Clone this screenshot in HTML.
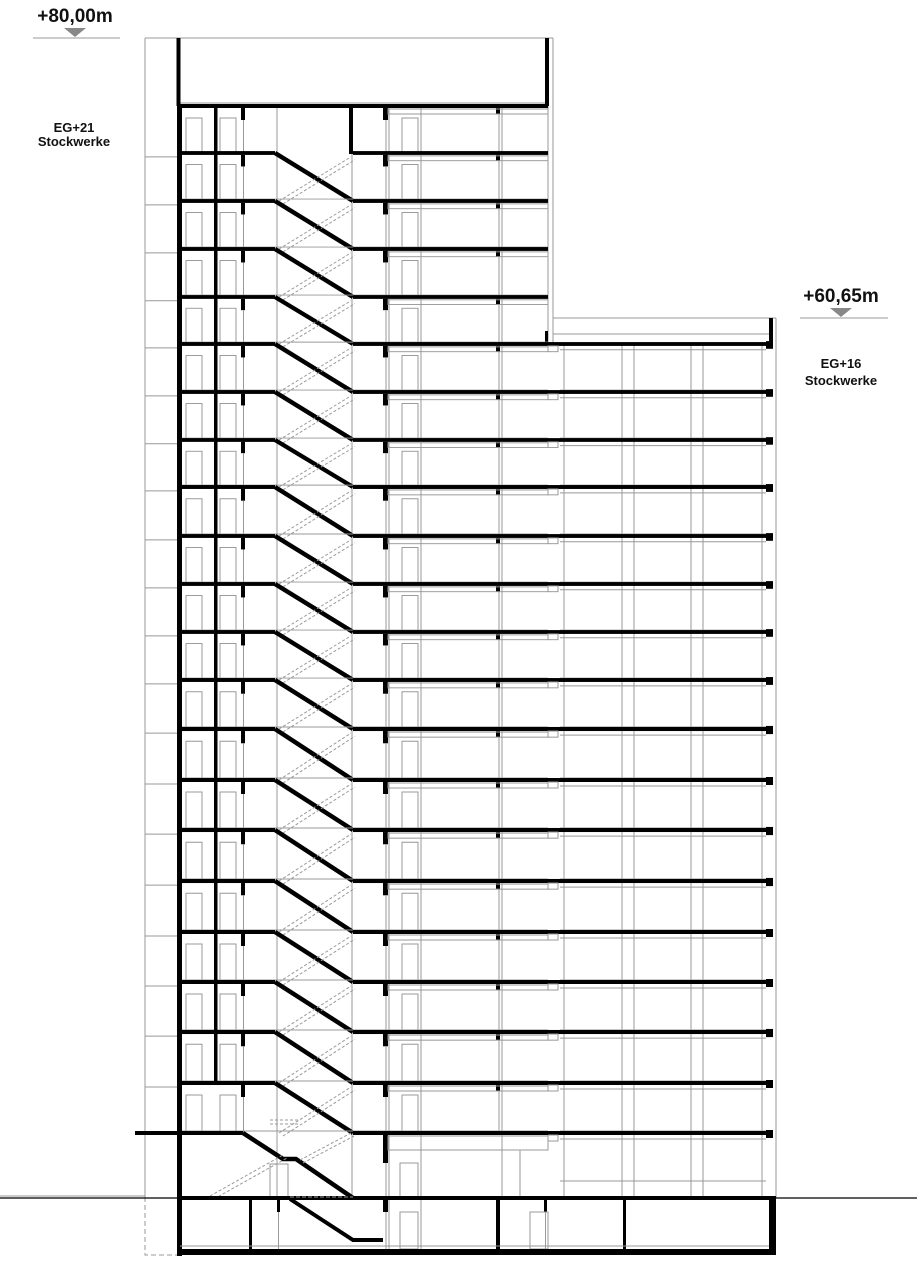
<!DOCTYPE html>
<html><head><meta charset="utf-8"><style>
html,body{margin:0;padding:0;background:#fff;}
svg{display:block}
text{font-family:"Liberation Sans Narrow","Liberation Sans",sans-serif;font-weight:bold;fill:#111;text-anchor:middle}
</style></head><body>
<svg width="917" height="1280" viewBox="0 0 917 1280" xmlns="http://www.w3.org/2000/svg">
<defs>
<g id="t">
 <rect x="180" y="-2" width="95" height="4" fill="#000"/>
 <rect x="353" y="-2" width="195" height="4" fill="#000"/>
 <path d="M275 0 L353 50" stroke="#000" stroke-width="4.5" fill="none"/>
 <path d="M279 50 L351 4 M283 53 L355 7" stroke="#999" stroke-width="1" stroke-dasharray="3 2" fill="none"/>
 <rect x="241" y="2" width="4" height="12" fill="#000"/>
 <rect x="383" y="2" width="5" height="12" fill="#000"/>
 <rect x="496" y="2" width="4" height="6" fill="#000"/>
 <g stroke="#999" stroke-width="1" fill="none">
  <path d="M243.5 14V50 M386 14V50 M389 2V50 M421 2V50 M502 2V50 M499 8V50 M145 4H177"/>
  <rect x="388" y="3" width="160" height="5"/>
  <rect x="186" y="12" width="16" height="38"/>
  <rect x="220" y="12" width="16" height="38"/>
  <rect x="402" y="12" width="16" height="38"/>
  <path d="M180 48H548"/>
 </g>
</g>
<g id="w">
 <rect x="548" y="-2" width="222" height="4" fill="#000"/>
 <rect x="766" y="-3" width="7" height="8" fill="#000"/>
 <g stroke="#999" stroke-width="1" fill="none">
  <path d="M560 6H766 M560 48H766"/>
  <rect x="548" y="2" width="10" height="6"/>
 </g>
</g>
</defs>

<!-- labels -->
<text x="75" y="22" font-size="19">+80,00m</text>
<polygon points="64,28 86,28 75,37" fill="#888"/>
<line x1="33" y1="38" x2="120" y2="38" stroke="#999" stroke-width="1"/>
<text x="74" y="132" font-size="13">EG+21</text>
<text x="74" y="146" font-size="13">Stockwerke</text>
<text x="841" y="302" font-size="19">+60,65m</text>
<polygon points="830,308 852,308 841,317" fill="#888"/>
<line x1="800" y1="318" x2="888" y2="318" stroke="#999" stroke-width="1"/>
<text x="841" y="368" font-size="13">EG+16</text>
<text x="841" y="385" font-size="13">Stockwerke</text>

<!-- global thin lines -->
<g stroke="#999" stroke-width="1" fill="none">
 <path d="M145 38V1198 M145 38H553 M553 38V344 M548 106V344 M180 103H546"/>
 <path d="M277 106V1198 M352 153V1198"/>
 <path d="M553 318H776 M553 334H770 M776 318V1198"/>
 <path d="M564 344V1198 M622 344V1198 M634 344V1198 M691 344V1198 M703 344V1198 M762 344V1198"/>
 <rect x="145" y="1198" width="33" height="57" stroke-dasharray="5 3"/>
</g>

<!-- parapets -->
<rect x="176.5" y="38" width="4" height="68" fill="#000"/>
<rect x="545" y="38" width="4" height="68" fill="#000"/>
<rect x="769" y="318" width="4" height="26" fill="#000"/>
<rect x="545" y="331" width="3" height="13" fill="#000"/>

<!-- top floor -->
<rect x="178" y="104" width="370" height="4" fill="#000"/>
<rect x="349" y="106" width="4" height="48" fill="#000"/>
<rect x="241" y="108" width="4" height="12" fill="#000"/>
<rect x="383" y="108" width="5" height="12" fill="#000"/>
<rect x="496" y="108" width="4" height="6" fill="#000"/>
<g stroke="#999" stroke-width="1" fill="none">
 <path d="M243.5 120V153 M386 120V153 M389 108V153 M421 108V153 M502 108V153 M499 114V153"/>
 <rect x="388" y="109" width="160" height="5"/>
 <rect x="186" y="118" width="16" height="35"/>
 <rect x="220" y="118" width="16" height="35"/>
 <rect x="402" y="118" width="16" height="35"/>
</g>

<!-- typical floors -->
<use href="#t" transform="translate(0,153) scale(1,0.96)"/>
<use href="#t" transform="translate(0,201) scale(1,0.96)"/>
<use href="#t" transform="translate(0,249) scale(1,0.96)"/>
<use href="#t" transform="translate(0,297) scale(1,0.94)"/>
<use href="#t" transform="translate(0,344) scale(1,0.96)"/>
<use href="#t" transform="translate(0,392) scale(1,0.96)"/>
<use href="#t" transform="translate(0,440) scale(1,0.94)"/>
<use href="#t" transform="translate(0,487) scale(1,0.98)"/>
<use href="#t" transform="translate(0,536) scale(1,0.96)"/>
<use href="#t" transform="translate(0,584) scale(1,0.96)"/>
<use href="#t" transform="translate(0,632) scale(1,0.96)"/>
<use href="#t" transform="translate(0,680) scale(1,0.98)"/>
<use href="#t" transform="translate(0,729) scale(1,1.02)"/>
<use href="#t" transform="translate(0,780) scale(1,1.0)"/>
<use href="#t" transform="translate(0,830) scale(1,1.02)"/>
<use href="#t" transform="translate(0,881) scale(1,1.02)"/>
<use href="#t" transform="translate(0,932) scale(1,1.0)"/>
<use href="#t" transform="translate(0,982) scale(1,1.0)"/>
<use href="#t" transform="translate(0,1032) scale(1,1.02)"/>
<use href="#t" transform="translate(0,1083) scale(1,1.0)"/>

<use href="#w" transform="translate(0,344) scale(1,0.96)"/>
<use href="#w" transform="translate(0,392) scale(1,0.96)"/>
<use href="#w" transform="translate(0,440) scale(1,0.94)"/>
<use href="#w" transform="translate(0,487) scale(1,0.98)"/>
<use href="#w" transform="translate(0,536) scale(1,0.96)"/>
<use href="#w" transform="translate(0,584) scale(1,0.96)"/>
<use href="#w" transform="translate(0,632) scale(1,0.96)"/>
<use href="#w" transform="translate(0,680) scale(1,0.98)"/>
<use href="#w" transform="translate(0,729) scale(1,1.02)"/>
<use href="#w" transform="translate(0,780) scale(1,1.0)"/>
<use href="#w" transform="translate(0,830) scale(1,1.02)"/>
<use href="#w" transform="translate(0,881) scale(1,1.02)"/>
<use href="#w" transform="translate(0,932) scale(1,1.0)"/>
<use href="#w" transform="translate(0,982) scale(1,1.0)"/>
<use href="#w" transform="translate(0,1032) scale(1,1.02)"/>
<use href="#w" transform="translate(0,1083) scale(1,1.0)"/>
<use href="#w" transform="translate(0,1133) scale(1,1.0)"/>

<!-- column and outer wall -->
<rect x="214" y="106" width="3.5" height="977" fill="#000"/>
<rect x="177" y="104" width="5" height="1152" fill="#000"/>

<!-- ground floor (1133-1198) -->
<rect x="135" y="1131" width="108" height="4" fill="#000"/>
<rect x="353" y="1131" width="195" height="4" fill="#000"/>
<path d="M243 1133 L283 1159 L296 1159 L353 1198" stroke="#000" stroke-width="4.5" fill="none"/>
<path d="M210 1196 L283 1155 M214 1199 L287 1158 M270 1120 L298 1120 M270 1124 L298 1124 M300 1160 L351 1133 M303 1163 L354 1136" stroke="#999" stroke-width="1" stroke-dasharray="3 2" fill="none"/>
<rect x="383" y="1135" width="5" height="28" fill="#000"/>
<g stroke="#999" stroke-width="1" fill="none">
 <path d="M386 1163V1198 M389 1135V1198 M421 1135V1198 M502 1135V1198 M520 1150V1198"/>
 <rect x="388" y="1136" width="160" height="14"/>
 <rect x="270" y="1164" width="18" height="34"/>
 <rect x="400" y="1163" width="18" height="35"/>
 <path d="M0 1196H145"/>
</g>
<rect x="180" y="1196" width="596" height="4" fill="#000"/>
<line x1="0" y1="1198" x2="917" y2="1198" stroke="#000" stroke-width="1.2"/>

<!-- basement -->
<rect x="249" y="1200" width="3" height="50" fill="#000"/>
<rect x="277" y="1200" width="3" height="12" fill="#000"/>
<path d="M290 1199 L353 1240 L383 1240" stroke="#000" stroke-width="4" fill="none"/>
<path d="M290 1197 H353" stroke="#999" stroke-width="1" stroke-dasharray="4 2"/>
<rect x="383" y="1200" width="5" height="12" fill="#000"/>
<rect x="496" y="1200" width="4" height="50" fill="#000"/>
<rect x="544" y="1200" width="3" height="12" fill="#000"/>
<rect x="623" y="1200" width="3" height="50" fill="#000"/>
<g stroke="#999" stroke-width="1" fill="none">
 <path d="M386 1212V1249 M389 1200V1249 M421 1200V1249 M278.5 1212V1249 M545.5 1212V1249 M180 1246H770"/>
 <rect x="400" y="1212" width="18" height="37"/>
 <rect x="530" y="1212" width="18" height="37"/>
</g>
<rect x="178" y="1249" width="598" height="6" fill="#000"/>
<rect x="769" y="1198" width="7" height="57" fill="#000"/>
</svg>
</body></html>
